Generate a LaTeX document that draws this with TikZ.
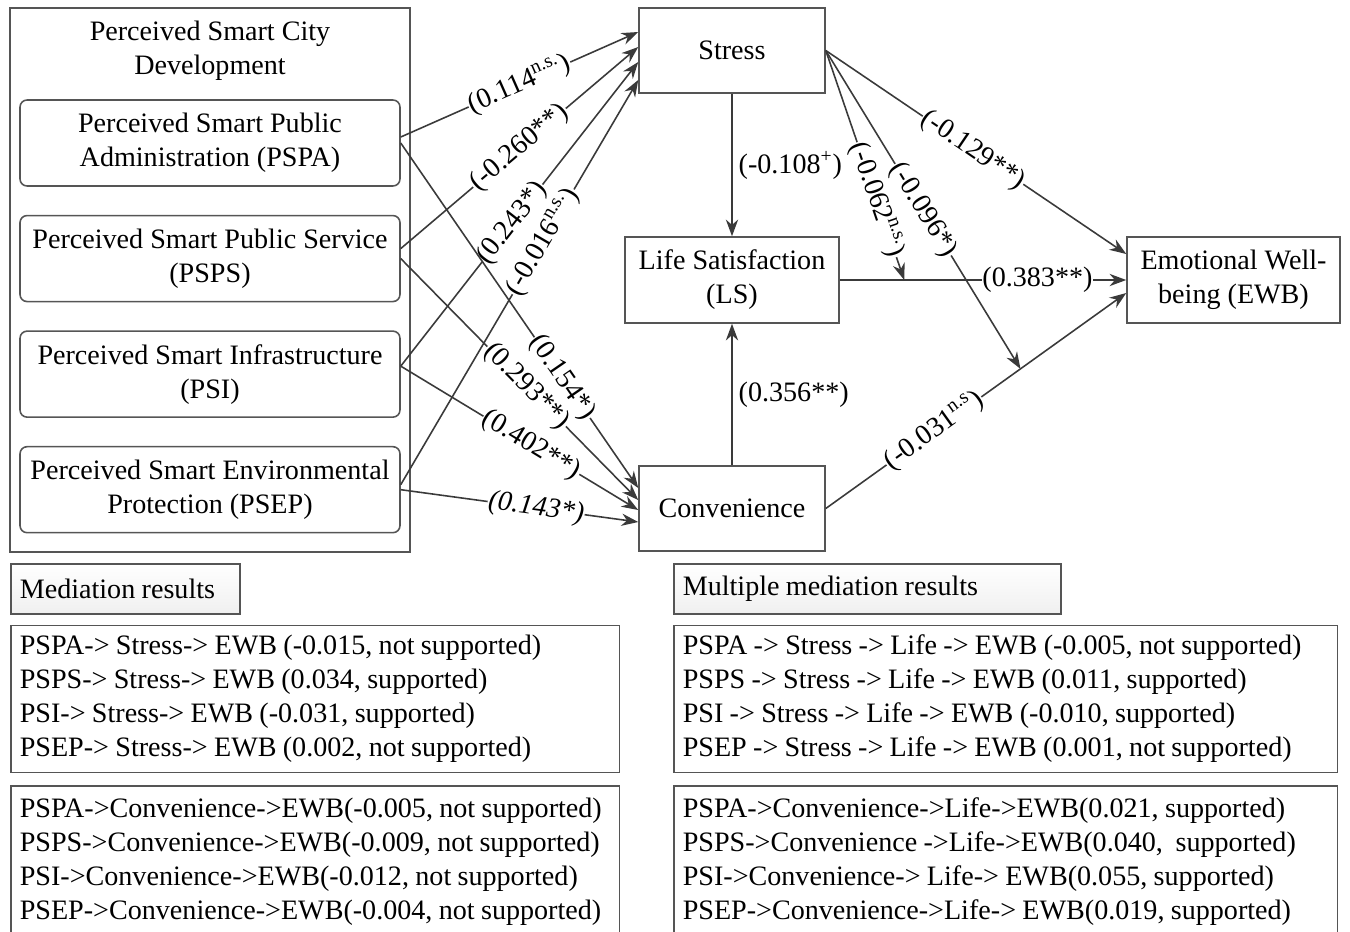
\documentclass[tikz,border=0pt]{standalone}
\usepackage{fontspec}
\setmainfont{Liberation Serif}
\usepackage{tikz}
\usetikzlibrary{arrows.meta,positioning}
\definecolor{edgegray}{HTML}{3A3A3A}
\definecolor{framegray}{HTML}{555555}

\begin{document}
\begin{tikzpicture}[x=0.02cm,y=-0.02cm,>={Stealth[length=9.5pt,width=7pt]},
                    line width=0.9pt]
\tikzset{font=\fontsize{16pt}{19.35pt}\selectfont}
\tikzset{box/.style={draw=framegray,align=center,inner sep=2pt},
         subbox/.style={box,rounded corners=0.14cm,minimum width=7.6cm,minimum height=1.72cm},
         resbox/.style={draw=framegray,align=left,inner xsep=0.18cm,inner ysep=0pt,
                        execute at begin node={\spaceskip=0.225em\relax}},
         headbox/.style={resbox,top color=white,bottom color=gray!12,minimum height=1cm},
         coef/.style={sloped,fill=white,inner sep=0.5pt},
         every edge/.style={draw=edgegray}}

\useasboundingbox (0,0) rectangle (1350,931);

        % independent variables
        \node[box,minimum width=8cm,minimum height=10.88cm]         (pscd)  at (210,280)      {};
        \node[align=center]                                          (title) at (210,51)       {Perceived Smart City\\Development};
        \node[subbox]                                                (pspa)  at (210,143)      {Perceived Smart Public\\Administration (PSPA)};
        \node[subbox]                                                (psps)  [below=0.56cm of pspa] {Perceived Smart Public Service\\(PSPS)};
        \node[subbox]                                                (psi)   [below=0.56cm of psps] {Perceived Smart Infrastructure\\(PSI)};
        \node[subbox]                                                (psep)  [below=0.56cm of psi]  {Perceived Smart Environmental\\Protection (PSEP)};

        % mediators and outcome
        \node[box,minimum width=3.72cm,minimum height=1.7cm]         (stress) at (732,50.5)   {Stress};
        \node[box,minimum width=4.28cm,minimum height=1.72cm]        (ls)     at (732,280)    {Life Satisfaction\\(LS)};
        \node[box,minimum width=3.72cm,minimum height=1.7cm]         (conv)   at (732,508.5)  {Convenience};
        \node[box,minimum width=4.26cm,minimum height=1.72cm]        (ewb)    at (1233.5,280) {Emotional Well-\\being (EWB)};

        \path (ls.east) -- (ewb.west) coordinate[pos=0.225] (m1);
        \path (conv.east) -- ([yshift=-0.26cm]ewb.west) coordinate[pos=0.648] (m2);

        \path[->]
        ([yshift=0.12cm]pspa.east)  edge node[coef,pos=0.5]  {(0.114\textsuperscript{n.s.})}  ([yshift=0.37cm]stress.west)
        ([yshift=0.2cm]psps.east)   edge node[coef,pos=0.5]  {(-0.260**)}                     ([yshift=0.07cm]stress.west)
        ([yshift=0.16cm]psi.east)   edge node[coef,pos=0.47] {(0.243*)}                       ([yshift=-0.23cm]stress.west)
        ([yshift=0.1cm]psep.east)   edge node[coef,pos=0.6]  {(-0.016\textsuperscript{n.s.})} ([yshift=-0.59cm]stress.west)
        (pspa.east)                 edge node[coef,pos=0.68] {(0.154*)}                       ([yshift=0.41cm]conv.west)
        (psps.east)                 edge node[coef,pos=0.53] {(0.293**)}                      ([yshift=0.17cm]conv.west)
        ([yshift=0.16cm]psi.east)   edge node[coef,pos=0.55] {(0.402**)}                      ([yshift=-0.03cm]conv.west)
        (psep.east)                 edge node[coef,pos=0.57] {\textit{(0.143*)}}              ([yshift=-0.27cm]conv.west)
        (stress)                    edge node[right,pos=0.5] {(-0.108\textsuperscript{+})}    (ls)
        (conv)                      edge node[right,pos=0.5] {(0.356**)}                      (ls)
        (ls.east)                   edge node[coef,pos=0.69] {(0.383**)}                      (ewb.west)
        (stress.east)               edge node[coef,pos=0.49] {(-0.129**)}                     ([yshift=0.52cm]ewb.west)
        (conv.east)                 edge node[coef,pos=0.36] {(-0.031\textsuperscript{n.s})}  ([yshift=-0.26cm]ewb.west)
        (stress.east)               edge node[coef,pos=0.65] {(-0.062\textsuperscript{n.s.})} (m1)
        (stress.east)               edge node[coef,pos=0.5]  {(-0.096*)}                      (m2)
        ; %end path

        % mediation results
        \node[headbox,text width=4.22cm,anchor=north west]           (medhead)  at (10,563)  {Mediation results};
        \node[resbox,text width=11.82cm,minimum height=2.94cm]       (medstress) [below=0.2cm of medhead.south west,anchor=north west]
              {PSPA-> Stress-> EWB (-0.015, not supported)\\PSPS-> Stress-> EWB (0.034, supported)\\PSI-> Stress-> EWB (-0.031, supported)\\PSEP-> Stress-> EWB (0.002, not supported)};
        \node[resbox,text width=11.82cm,minimum height=3.04cm]       (medconv)   [below=0.24cm of medstress.south west,anchor=north west]
              {PSPA->Convenience->EWB(-0.005, not supported)\\PSPS->Convenience->EWB(-0.009, not supported)\\PSI->Convenience->EWB(-0.012, not supported)\\PSEP->Convenience->EWB(-0.004, not supported)};

        \node[headbox,text width=7.38cm,anchor=north west]           (mulhead)  at (673,563) {Multiple mediation results};
        \node[resbox,text width=12.92cm,minimum height=2.94cm]       (mulstress) [below=0.2cm of mulhead.south west,anchor=north west]
              {PSPA -> Stress -> Life -> EWB (-0.005, not supported)\\PSPS -> Stress -> Life -> EWB (0.011, supported)\\PSI -> Stress -> Life -> EWB (-0.010, supported)\\PSEP -> Stress -> Life -> EWB (0.001, not supported)};
        \node[resbox,text width=12.92cm,minimum height=3.04cm]       (mulconv)   [below=0.24cm of mulstress.south west,anchor=north west]
              {PSPA->Convenience->Life->EWB(0.021, supported)\\PSPS->Convenience ->Life->EWB(0.040, \ supported)\\PSI->Convenience-> Life-> EWB(0.055, supported)\\PSEP->Convenience->Life-> EWB(0.019, supported)};

\end{tikzpicture}
\end{document}
